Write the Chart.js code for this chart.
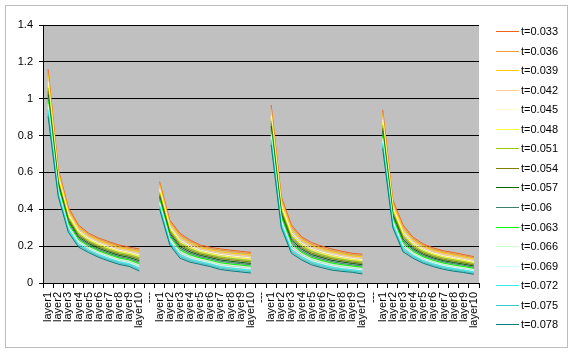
<!DOCTYPE html>
<html>
<head>
<meta charset="utf-8">
<script src="https://cdn.jsdelivr.net/npm/chart.js@4.4.0/dist/chart.umd.min.js"></script>
<style>
  body { margin: 0; background: #fff; }
  #wrap { width: 575px; height: 354px; }
</style>
</head>
<body>
<div id="wrap"><canvas id="chart" width="575" height="354"></canvas></div>
<script>
// x categories: four runs of layer1..layer10 split by a "---" spacer
const categories = [
  'layer1', 'layer2', 'layer3', 'layer4', 'layer5', 'layer6', 'layer7', 'layer8', 'layer9', 'layer10', '---',
  'layer1', 'layer2', 'layer3', 'layer4', 'layer5', 'layer6', 'layer7', 'layer8', 'layer9', 'layer10', '---',
  'layer1', 'layer2', 'layer3', 'layer4', 'layer5', 'layer6', 'layer7', 'layer8', 'layer9', 'layer10', '---',
  'layer1', 'layer2', 'layer3', 'layer4', 'layer5', 'layer6', 'layer7', 'layer8', 'layer9', 'layer10'
];

const seriesNames = ['t=0.033', 't=0.036', 't=0.039', 't=0.042', 't=0.045', 't=0.048', 't=0.051', 't=0.054',
  't=0.057', 't=0.06', 't=0.063', 't=0.066', 't=0.069', 't=0.072', 't=0.075', 't=0.078'];

const seriesColors = ['#F06418', '#F29B30', '#FFCC00', '#FFCC99', '#FFFFCC', '#FFFF33', '#99CC00', '#808000',
  '#006600', '#3F8071', '#00FF00', '#CCFFCC', '#CCFFFF', '#33F0F0', '#33CCCC', '#008080'];

const t033 = [1.16, 0.62, 0.41, 0.315, 0.27, 0.244, 0.224, 0.206, 0.195, 0.185, null,
  0.55, 0.342, 0.27, 0.233, 0.206, 0.194, 0.185, 0.178, 0.172, 0.166, null,
  0.966, 0.468, 0.315, 0.251, 0.219, 0.2, 0.184, 0.172, 0.161, 0.156, null,
  0.94, 0.45, 0.315, 0.248, 0.212, 0.19, 0.175, 0.165, 0.154, 0.143];
const t036 = [1.143, 0.61, 0.401, 0.307, 0.263, 0.237, 0.217, 0.199, 0.188, 0.177, null,
  0.54, 0.333, 0.261, 0.225, 0.199, 0.187, 0.178, 0.171, 0.165, 0.159, null,
  0.952, 0.457, 0.305, 0.243, 0.211, 0.192, 0.176, 0.165, 0.154, 0.149, null,
  0.926, 0.44, 0.305, 0.24, 0.205, 0.183, 0.168, 0.158, 0.148, 0.137];
const t039 = [1.126, 0.60, 0.392, 0.299, 0.256, 0.23, 0.21, 0.192, 0.181, 0.169, null,
  0.53, 0.324, 0.252, 0.217, 0.192, 0.18, 0.17, 0.163, 0.157, 0.151, null,
  0.937, 0.446, 0.294, 0.234, 0.203, 0.184, 0.169, 0.157, 0.147, 0.142, null,
  0.912, 0.43, 0.296, 0.233, 0.198, 0.177, 0.162, 0.152, 0.141, 0.13];
const t042 = [1.109, 0.59, 0.383, 0.291, 0.249, 0.223, 0.203, 0.185, 0.174, 0.161, null,
  0.52, 0.315, 0.243, 0.209, 0.185, 0.173, 0.163, 0.156, 0.15, 0.144, null,
  0.923, 0.434, 0.284, 0.226, 0.195, 0.177, 0.161, 0.15, 0.14, 0.135, null,
  0.898, 0.42, 0.286, 0.225, 0.191, 0.17, 0.155, 0.145, 0.135, 0.124];
const t045 = [1.092, 0.58, 0.374, 0.283, 0.242, 0.216, 0.196, 0.178, 0.167, 0.153, null,
  0.51, 0.306, 0.234, 0.201, 0.178, 0.166, 0.155, 0.148, 0.142, 0.136, null,
  0.908, 0.423, 0.274, 0.217, 0.187, 0.169, 0.154, 0.143, 0.133, 0.128, null,
  0.884, 0.41, 0.276, 0.218, 0.184, 0.163, 0.148, 0.138, 0.128, 0.117];
const t048 = [1.075, 0.57, 0.365, 0.275, 0.235, 0.209, 0.189, 0.171, 0.16, 0.145, null,
  0.50, 0.297, 0.225, 0.193, 0.171, 0.159, 0.148, 0.141, 0.135, 0.129, null,
  0.894, 0.412, 0.264, 0.209, 0.179, 0.161, 0.146, 0.135, 0.127, 0.121, null,
  0.87, 0.40, 0.267, 0.21, 0.177, 0.157, 0.142, 0.132, 0.122, 0.111];
const t051 = [1.058, 0.56, 0.356, 0.267, 0.228, 0.202, 0.182, 0.164, 0.153, 0.137, null,
  0.49, 0.288, 0.216, 0.185, 0.164, 0.152, 0.14, 0.133, 0.127, 0.121, null,
  0.88, 0.401, 0.253, 0.201, 0.17, 0.153, 0.138, 0.128, 0.12, 0.113, null,
  0.856, 0.39, 0.257, 0.202, 0.17, 0.15, 0.135, 0.125, 0.115, 0.105];
const t054 = [1.041, 0.55, 0.347, 0.259, 0.221, 0.195, 0.175, 0.157, 0.146, 0.129, null,
  0.48, 0.279, 0.207, 0.177, 0.157, 0.145, 0.133, 0.126, 0.12, 0.114, null,
  0.865, 0.39, 0.243, 0.192, 0.162, 0.145, 0.131, 0.121, 0.113, 0.106, null,
  0.842, 0.38, 0.247, 0.195, 0.163, 0.143, 0.128, 0.118, 0.109, 0.098];
const t057 = [1.024, 0.54, 0.338, 0.251, 0.214, 0.188, 0.168, 0.15, 0.139, 0.121, null,
  0.47, 0.27, 0.198, 0.169, 0.15, 0.138, 0.125, 0.118, 0.112, 0.106, null,
  0.851, 0.378, 0.233, 0.184, 0.154, 0.138, 0.123, 0.114, 0.106, 0.099, null,
  0.828, 0.37, 0.237, 0.187, 0.156, 0.136, 0.121, 0.111, 0.102, 0.092];
const t060 = [1.007, 0.53, 0.329, 0.243, 0.207, 0.181, 0.161, 0.143, 0.132, 0.113, null,
  0.46, 0.261, 0.189, 0.161, 0.143, 0.131, 0.118, 0.111, 0.105, 0.099, null,
  0.836, 0.367, 0.222, 0.175, 0.146, 0.13, 0.116, 0.106, 0.099, 0.092, null,
  0.814, 0.36, 0.228, 0.18, 0.149, 0.13, 0.115, 0.105, 0.096, 0.085];
const t063 = [0.99, 0.52, 0.32, 0.235, 0.2, 0.174, 0.154, 0.136, 0.125, 0.105, null,
  0.45, 0.252, 0.18, 0.153, 0.136, 0.124, 0.11, 0.103, 0.097, 0.091, null,
  0.822, 0.356, 0.212, 0.167, 0.138, 0.122, 0.108, 0.099, 0.092, 0.085, null,
  0.80, 0.35, 0.218, 0.172, 0.142, 0.123, 0.108, 0.098, 0.089, 0.079];
const t066 = [0.973, 0.51, 0.311, 0.227, 0.193, 0.167, 0.147, 0.129, 0.118, 0.097, null,
  0.44, 0.243, 0.171, 0.145, 0.129, 0.117, 0.103, 0.096, 0.09, 0.084, null,
  0.808, 0.345, 0.202, 0.159, 0.13, 0.114, 0.1, 0.092, 0.085, 0.078, null,
  0.786, 0.34, 0.208, 0.164, 0.135, 0.116, 0.101, 0.091, 0.083, 0.073];
const t069 = [0.956, 0.50, 0.302, 0.219, 0.186, 0.16, 0.14, 0.122, 0.111, 0.089, null,
  0.43, 0.234, 0.162, 0.137, 0.122, 0.11, 0.095, 0.088, 0.082, 0.076, null,
  0.793, 0.334, 0.191, 0.15, 0.122, 0.106, 0.093, 0.084, 0.078, 0.071, null,
  0.772, 0.33, 0.199, 0.157, 0.128, 0.11, 0.095, 0.085, 0.076, 0.066];
const t072 = [0.939, 0.49, 0.293, 0.211, 0.179, 0.153, 0.133, 0.115, 0.104, 0.081, null,
  0.42, 0.225, 0.153, 0.129, 0.115, 0.103, 0.088, 0.081, 0.075, 0.069, null,
  0.779, 0.322, 0.181, 0.142, 0.114, 0.099, 0.085, 0.077, 0.071, 0.064, null,
  0.758, 0.32, 0.189, 0.149, 0.121, 0.103, 0.088, 0.078, 0.07, 0.06];
const t075 = [0.922, 0.48, 0.284, 0.203, 0.172, 0.146, 0.126, 0.108, 0.097, 0.073, null,
  0.41, 0.216, 0.144, 0.121, 0.108, 0.096, 0.08, 0.073, 0.067, 0.061, null,
  0.764, 0.311, 0.171, 0.133, 0.106, 0.091, 0.078, 0.07, 0.064, 0.057, null,
  0.744, 0.31, 0.179, 0.142, 0.114, 0.096, 0.081, 0.071, 0.063, 0.053];
const t078 = [0.905, 0.47, 0.275, 0.195, 0.165, 0.139, 0.119, 0.101, 0.09, 0.065, null,
  0.40, 0.207, 0.135, 0.113, 0.101, 0.089, 0.073, 0.066, 0.06, 0.054, null,
  0.75, 0.30, 0.161, 0.125, 0.098, 0.083, 0.07, 0.063, 0.058, 0.049, null,
  0.73, 0.30, 0.17, 0.134, 0.107, 0.089, 0.074, 0.064, 0.057, 0.047];

const seriesValues = [t033, t036, t039, t042, t045, t048, t051, t054,
  t057, t060, t063, t066, t069, t072, t075, t078];

const FONT = '"Liberation Sans", Arial, sans-serif';

// white page, thin grey frame, grey plot area
const backdrop = {
  id: 'backdrop',
  beforeDraw(chart) {
    const ctx = chart.ctx;
    const a = chart.chartArea;
    ctx.save();
    ctx.fillStyle = '#fff';
    ctx.fillRect(0, 0, chart.width, chart.height);
    ctx.strokeStyle = '#bdbdbd';
    ctx.lineWidth = 1;
    ctx.strokeRect(5.5, 5.5, 562, 342);
    ctx.fillStyle = '#C0C0C0';
    ctx.fillRect(a.left, a.top, a.right - a.left, a.bottom - a.top);
    ctx.restore();
  }
};

// Excel-like legend on the right
const sideLegend = {
  id: 'sideLegend',
  afterDraw(chart) {
    const ctx = chart.ctx;
    ctx.save();
    ctx.font = '11px ' + FONT;
    ctx.textBaseline = 'middle';
    ctx.textAlign = 'left';
    chart.data.datasets.forEach((ds, i) => {
      const y = Math.round(31 + i * 19.55) + 0.5;
      ctx.strokeStyle = ds.borderColor;
      ctx.lineWidth = 1;
      ctx.beginPath();
      ctx.moveTo(496, y);
      ctx.lineTo(519, y);
      ctx.stroke();
      ctx.fillStyle = '#000';
      ctx.fillText(ds.label, 521, y);
    });
    ctx.restore();
  }
};

new Chart(document.getElementById('chart'), {
  type: 'line',
  data: {
    labels: categories,
    datasets: seriesValues.map((vals, i) => ({
      label: seriesNames[i],
      data: vals,
      borderColor: seriesColors[i],
      backgroundColor: seriesColors[i],
      borderWidth: 1,
      pointRadius: 0,
      tension: 0,
      spanGaps: false,
      order: seriesValues.length - 1 - i
    }))
  },
  options: {
    responsive: false,
    animation: false,
    layout: { padding: { left: 0, top: 25, right: 96, bottom: 0 } },
    plugins: {
      legend: { display: false },
      tooltip: { enabled: false }
    },
    scales: {
      x: {
        offset: true,
        afterFit(scale) { scale.height = 71; },
        grid: { offset: true, drawOnChartArea: false, color: '#000', tickLength: 5 },
        border: { color: '#000' },
        ticks: {
          autoSkip: false,
          minRotation: 90,
          maxRotation: 90,
          padding: 4,
          color: '#000',
          font: { family: FONT, size: 11 }
        }
      },
      y: {
        min: 0,
        max: 1.4,
        afterFit(scale) { scale.width = 43; },
        grid: { color: '#000', tickLength: 4 },
        border: { color: '#000' },
        ticks: {
          stepSize: 0.2,
          padding: 6,
          color: '#000',
          font: { family: FONT, size: 11 },
          callback: v => String(+v.toFixed(1))
        }
      }
    }
  },
  plugins: [backdrop, sideLegend]
});
</script>
</body>
</html>
